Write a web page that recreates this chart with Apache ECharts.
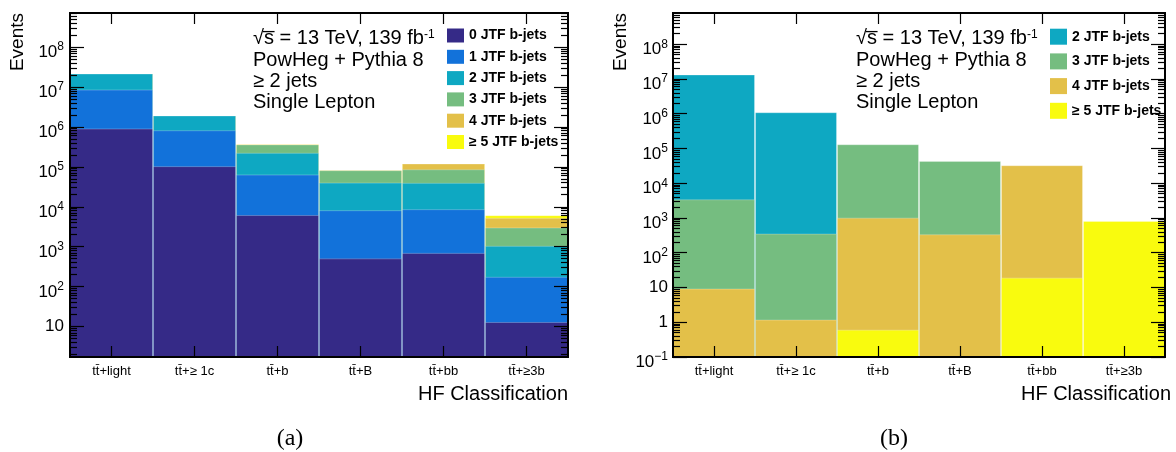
<!DOCTYPE html>
<html>
<head>
<meta charset="utf-8">
<script src="https://cdn.jsdelivr.net/npm/echarts@6/dist/echarts.min.js"></script>
<style>
html,body{margin:0;padding:0;background:#fff;}
#c{width:1176px;height:452px;}
</style>
</head>
<body>
<div id="c"></div>
<script>
// ---------------- data ----------------
const categories = ['tt\u0304+light', 'tt\u0304+\u2265 1c', 'tt\u0304+b', 'tt\u0304+B', 'tt\u0304+bb', 'tt\u0304+\u22653b'];
const seriesNamesA = ['0 JTF b-jets', '1 JTF b-jets', '2 JTF b-jets', '3 JTF b-jets', '4 JTF b-jets', '\u2265 5 JTF b-jets'];
const seriesNamesB = ['2 JTF b-jets', '3 JTF b-jets', '4 JTF b-jets', '\u2265 5 JTF b-jets'];

// panel (a): events per JTF b-jet multiplicity (stacked)
const jtf0A = [9.1e5, 1.04e5, 6.2e3, 510, 700, 13];
const jtf1A = [7.7e6, 7.2e5, 5.8e4, 7.7e3, 8.0e3, 163];
const jtf2A = [1.3e7, 1.1e6, 1.6e5, 3.2e4, 3.1e4, 874];
const jtf3A = [3450, 355, 1.4e5, 4.2e4, 4.7e4, 1980];
const jtf4A = [9, 1.2, 1020, 340, 3.4e4, 2240];
const jtf5A = [0, 0, 0.6, 0, 19, 880];

// panel (b): overlaid (visible) values
const jtf2B = [1.34e7, 1.1e6, null, null, null, null];
const jtf3B = [3450, 355, 1.32e5, 4.38e4, null, null];
const jtf4B = [9.3, 1.19, 1020, 340, 3.29e4, null];
const jtf5B = [null, null, 0.61, null, 19.2, 820];

// axis ticks
const yMajorA = [1e1, 1e2, 1e3, 1e4, 1e5, 1e6, 1e7, 1e8];
const yMajorB = [1e-1, 1, 1e1, 1e2, 1e3, 1e4, 1e5, 1e6, 1e7, 1e8];
const yRangeA = [1.73, 7.1e8];
const yRangeB = [0.1, 7.9e8];

// ---------------- style ----------------
const FONT = '"Liberation Sans", Arial, Helvetica, sans-serif';
const colors = ['#352A87', '#1272DA', '#0EA8C2', '#75BD80', '#E3C049', '#F9FB0E'];
const colorByName = {};
seriesNamesA.forEach((n, i) => colorByName[n] = colors[i]);

function minorTicks(range) {
  const out = [];
  const e0 = Math.floor(Math.log10(range[0])), e1 = Math.ceil(Math.log10(range[1]));
  for (let e = e0; e <= e1; e++) {
    for (let k = 2; k <= 9; k++) {
      const v = k * Math.pow(10, e);
      if (v > range[0] && v < range[1]) out.push(v);
    }
  }
  return out;
}

function labelFmt(v) {
  const e = Math.round(Math.log10(v));
  if (e === 0) return '{p|1}';
  if (e === 1) return '{p|10}';
  return '{b|10}{s|' + (e < 0 ? '\u2212' + (-e) : e) + '}';
}

function yAxis(gridIndex, position, ticks, len, range, withLabels, margin, extra) {
  const ax = {
    type: 'log', logBase: 10, gridIndex: gridIndex, position: position,
    min: range[0], max: range[1], z: 10,
    axisLine: {show: true, onZero: false, lineStyle: {color: '#000', width: 2}},
    axisTick: {show: true, inside: true, length: len, customValues: ticks,
               lineStyle: {color: '#000', width: 1.2}},
    axisLabel: {show: false},
    splitLine: {show: false}, minorTick: {show: false}, minorSplitLine: {show: false}
  };
  if (withLabels) {
    ax.axisLabel = {
      show: true, customValues: ticks, formatter: labelFmt, margin: margin,
      color: '#000', fontFamily: FONT,
      rich: {
        b: {fontSize: 17, lineHeight: 28, verticalAlign: 'bottom', fontFamily: FONT, color: '#000'},
        s: {fontSize: 12, lineHeight: 28, verticalAlign: 'middle', fontFamily: FONT, color: '#000'},
        p: {fontSize: 17, lineHeight: 18, verticalAlign: 'middle', fontFamily: FONT, color: '#000'}
      }
    };
  }
  return Object.assign(ax, extra || {});
}

function xAxis(gridIndex, position, withLabels) {
  return {
    type: 'category', gridIndex: gridIndex, position: position, data: categories,
    boundaryGap: true, z: 10,
    axisLine: {show: true, onZero: false, lineStyle: {color: '#000', width: 2}},
    axisTick: {show: true, inside: true, length: 11, alignWithLabel: true,
               lineStyle: {color: '#000', width: 1.2}},
    axisLabel: withLabels ? {show: true, interval: 0, margin: 8, fontSize: 13, fontFamily: FONT, color: '#000'} : {show: false},
    splitLine: {show: false}
  };
}

// cumulative stacks for panel (a)
const layersA = [jtf0A, jtf1A, jtf2A, jtf3A, jtf4A, jtf5A];
const cumA = [];
layersA.forEach((arr, i) => {
  cumA.push(arr.map((v, j) => (i === 0 ? 0 : cumA[i - 1][j]) + v));
});

const edge = 'rgba(255,255,255,0.25)';
const series = [];
for (let i = 5; i >= 0; i--) {
  series.push({
    type: 'bar', name: seriesNamesA[i], xAxisIndex: 0, yAxisIndex: 0,
    data: cumA[i], barGap: '-100%', barCategoryGap: '0%',
    itemStyle: {color: colors[i], borderColor: edge, borderWidth: 1},
    emphasis: {disabled: true}, animation: false, silent: true
  });
}
const layersB = [jtf2B, jtf3B, jtf4B, jtf5B];
layersB.forEach((arr, i) => {
  series.push({
    type: 'bar', name: seriesNamesB[i], xAxisIndex: 2, yAxisIndex: 2,
    data: arr, barGap: '-100%', barCategoryGap: '0%',
    itemStyle: {color: colorByName[seriesNamesB[i]], borderColor: edge, borderWidth: 1},
    emphasis: {disabled: true}, animation: false, silent: true
  });
});

const legendText = {fontFamily: FONT, fontSize: 14, fontWeight: 'bold', color: '#000'};

const infoText = '\u221As\u0305 = 13 TeV, 139 fb{sup|-1}\nPowHeg + Pythia 8\n\u2265 2 jets\nSingle Lepton';
function info(x) {
  return {
    type: 'text', x: x, y: 28.3, z: 20,
    style: {
      text: infoText, fontFamily: FONT, fontSize: 20, lineHeight: 21.3, fill: '#000',
      verticalAlign: 'top', align: 'left',
      rich: {sup: {fontSize: 12, lineHeight: 12, verticalAlign: 'top', fontFamily: FONT, fill: '#000'}}
    }
  };
}
function txt(x, y, s, size, align, vAlign, extra) {
  return Object.assign({
    type: 'text', x: x, y: y, z: 20,
    style: {text: s, fontFamily: FONT, fontSize: size, fill: '#000', align: align, verticalAlign: vAlign}
  }, extra || {});
}

const rectA = {left: 70, top: 13, width: 498, height: 344, outerBoundsMode: 'none', containLabel: false};
const rectB = {left: 673, top: 13, width: 492, height: 344, outerBoundsMode: 'none', containLabel: false};

const option = {
  backgroundColor: '#fff',
  animation: false,
  grid: [rectA, rectB, Object.assign({}, rectA), Object.assign({}, rectB)],
  xAxis: [
    xAxis(0, 'bottom', true), xAxis(0, 'top', false),
    xAxis(1, 'bottom', true), xAxis(1, 'top', false),
    {type: 'category', gridIndex: 2, data: categories, show: false},
    {type: 'category', gridIndex: 3, data: categories, show: false}
  ],
  yAxis: [
    yAxis(0, 'left', yMajorA, 14, yRangeA, true, 6, {startValue: yRangeA[0]}),
    yAxis(0, 'right', yMajorA, 14, yRangeA, false),
    yAxis(1, 'left', yMajorB, 14, yRangeB, true, 5, {startValue: yRangeB[0]}),
    yAxis(1, 'right', yMajorB, 14, yRangeB, false),
    yAxis(2, 'left', minorTicks(yRangeA), 7, yRangeA, false),
    yAxis(2, 'right', minorTicks(yRangeA), 7, yRangeA, false),
    yAxis(3, 'left', minorTicks(yRangeB), 7, yRangeB, false),
    yAxis(3, 'right', minorTicks(yRangeB), 7, yRangeB, false)
  ],
  legend: [
    {orient: 'vertical', left: 447, top: 28.5, padding: 0, itemWidth: 17, itemHeight: 14, itemGap: 7.3,
     icon: 'rect', selectedMode: false, data: seriesNamesA, textStyle: legendText, itemStyle: {borderWidth: 0}},
    {orient: 'vertical', left: 1050, top: 28.7, padding: 0, itemWidth: 17, itemHeight: 16, itemGap: 8.7,
     icon: 'rect', selectedMode: false, data: seriesNamesB, textStyle: legendText, itemStyle: {borderWidth: 0}}
  ],
  graphic: [
    info(253), info(856),
    txt(18, 13, 'Events', 19, 'right', 'middle', {rotation: Math.PI / 2}),
    txt(621, 13, 'Events', 19, 'right', 'middle', {rotation: Math.PI / 2}),
    txt(568, 394.7, 'HF Classification', 20, 'right', 'middle'),
    txt(1171, 394.7, 'HF Classification', 20, 'right', 'middle'),
    {type: 'text', x: 290, y: 439, z: 20, style: {text: '(a)', fontFamily: '"Liberation Serif", "DejaVu Serif", serif', fontSize: 24, fill: '#000', align: 'center', verticalAlign: 'middle'}},
    {type: 'text', x: 894, y: 439, z: 20, style: {text: '(b)', fontFamily: '"Liberation Serif", "DejaVu Serif", serif', fontSize: 24, fill: '#000', align: 'center', verticalAlign: 'middle'}}
  ],
  series: series
};

const chart = echarts.init(document.getElementById('c'), null, {renderer: 'canvas'});
chart.setOption(option);
</script>
</body>
</html>
